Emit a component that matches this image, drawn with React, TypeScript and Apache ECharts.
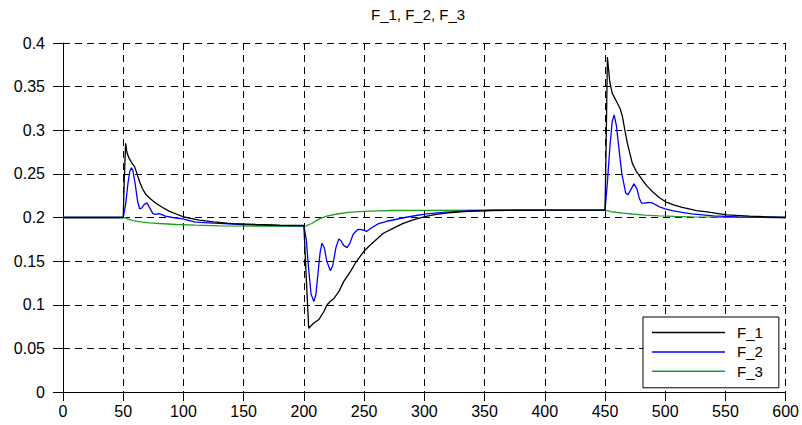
import React, { useEffect, useRef } from "react";
import * as echarts from "echarts";

const titleText = "F_1, F_2, F_3";
const seriesNames = ["F_1", "F_2", "F_3"];
const seriesColors = ["#000000", "#0000ff", "#20a020"];

const xTicks = { min: 0, max: 600, interval: 50 };
const yTicks = { min: 0, max: 0.4, interval: 0.05 };

const f1Points: [number, number][] = [
  [0, 0.2], [50, 0.2], [50.8, 0.24], [52, 0.285], [53, 0.275], [54.8, 0.268], [57, 0.263],
  [59.5, 0.258], [61.5, 0.25], [63.6, 0.241], [66, 0.233], [69, 0.226], [73, 0.221],
  [77.4, 0.216], [82, 0.212], [88.4, 0.207], [94, 0.204], [99.4, 0.201], [106, 0.199],
  [113, 0.197], [125, 0.195], [140, 0.193], [160, 0.192], [180, 0.1913], [200, 0.191],
  [202, 0.13], [204, 0.073], [206, 0.076], [208.3, 0.079], [212.4, 0.083], [216.5, 0.092],
  [219.3, 0.1], [222, 0.104], [224.8, 0.107], [229, 0.115], [233, 0.1265], [238.6, 0.138],
  [242.7, 0.1476], [246, 0.154], [249.6, 0.161], [254, 0.167], [257.9, 0.172], [262, 0.177],
  [266, 0.182], [274, 0.1876], [282, 0.193], [290, 0.197], [300.5, 0.201], [310, 0.2035],
  [320, 0.2052], [336, 0.207], [355, 0.208], [375, 0.2083], [400, 0.2085], [450, 0.2085],
  [450.8, 0.27], [452, 0.384], [454, 0.355], [456, 0.3425], [460.3, 0.331], [462.5, 0.325],
  [464.5, 0.3157], [466.5, 0.3], [468.6, 0.285], [472.7, 0.262], [476, 0.253], [481, 0.243],
  [485, 0.236], [489.3, 0.2297], [495, 0.223], [500.3, 0.218], [507, 0.2145], [514, 0.2115],
  [518, 0.2105], [526, 0.208], [534.7, 0.2065], [551, 0.203], [570, 0.2015], [584, 0.2008],
  [600, 0.2],
];

const f2Points: [number, number][] = [
  [0, 0.2], [50, 0.2], [52, 0.215], [54, 0.24], [55.5, 0.253], [56.8, 0.257], [58, 0.254],
  [60, 0.238], [62, 0.218], [63.6, 0.21], [65.5, 0.211], [67.5, 0.215], [69.7, 0.2167],
  [72, 0.211], [74.6, 0.2045], [77, 0.2035], [79.5, 0.2045], [81.5, 0.2035], [85, 0.2015],
  [91, 0.2], [99.4, 0.1984], [105, 0.1965], [110, 0.1948], [125, 0.1935], [150, 0.192],
  [175, 0.191], [200, 0.1905], [202, 0.175], [204, 0.14], [206, 0.112], [208.3, 0.1036],
  [210, 0.112], [212, 0.14], [213.5, 0.16], [215, 0.1705], [217, 0.165], [219, 0.15],
  [222, 0.139], [224, 0.145], [226.5, 0.165], [229, 0.1755], [231, 0.173], [233, 0.168],
  [235.8, 0.1655], [238, 0.17], [241, 0.181], [245, 0.1865], [248, 0.186], [252, 0.184],
  [256, 0.188], [262, 0.193], [266, 0.1945], [270, 0.196], [277, 0.198], [284, 0.2],
  [292, 0.202], [300.5, 0.2038], [315, 0.2058], [336, 0.2076], [360, 0.2083], [400, 0.2085],
  [450, 0.2085], [452, 0.24], [454, 0.28], [456, 0.31], [457.6, 0.3177], [459.5, 0.305],
  [461.7, 0.2775], [464, 0.25], [467.2, 0.228], [469, 0.226], [471.5, 0.232], [474, 0.2385],
  [476.5, 0.233], [478.5, 0.222], [480.4, 0.2164], [483, 0.2165], [486, 0.2172],
  [488.7, 0.217], [491, 0.2155], [494.8, 0.2125], [500, 0.21], [505.8, 0.2078],
  [514, 0.2058], [522, 0.2042], [540, 0.2018], [560, 0.2007], [580, 0.2003], [600, 0.2],
];

const f3Points: [number, number][] = [
  [0, 0.2], [50, 0.2], [52, 0.1995], [54, 0.198], [58, 0.1965], [62, 0.1955], [66, 0.1946],
  [72, 0.1938], [80, 0.1931], [94, 0.192], [110, 0.1912], [130, 0.1905], [160, 0.1902],
  [200, 0.19], [202, 0.1905], [204.5, 0.192], [207, 0.1934], [210, 0.1962], [213.8, 0.199],
  [219, 0.2015], [227.5, 0.204], [237, 0.2058], [249.6, 0.207], [262, 0.2076], [274, 0.208],
  [300, 0.2082], [350, 0.2083], [450, 0.2083], [452, 0.2078], [455, 0.2068], [459, 0.206],
  [465, 0.205], [472.7, 0.204], [483, 0.2028], [494.8, 0.2018], [508, 0.2012],
  [522, 0.2008], [545, 0.2004], [570, 0.2002], [600, 0.2],
];

const allPoints = [f1Points, f2Points, f3Points];

const FONT = "'Liberation Sans', Arial, Helvetica, sans-serif";

export default function App() {
  const ref = useRef<HTMLDivElement>(null);

  useEffect(() => {
    if (!ref.current) return;
    const chart = echarts.init(ref.current, null, { renderer: "svg" });
    const gridLine = {
      show: true,
      lineStyle: { color: "#000", width: 1, type: [7, 5] as number[] },
    };
    chart.setOption({
      animation: false,
      backgroundColor: "#fff",
      textStyle: { fontFamily: FONT },
      title: {
        text: titleText,
        left: 371,
        top: 7,
        padding: 0,
        textStyle: { fontFamily: FONT, fontSize: 15, fontWeight: "normal", color: "#000" },
      },
      legend: {
        orient: "vertical",
        left: 643,
        top: 317,
        padding: [8, 16, 9, 9],
        icon: "rect",
        itemWidth: 73,
        itemHeight: 1.5,
        itemGap: 4.4,
        backgroundColor: "#fff",
        borderColor: "#000",
        borderWidth: 1,
        borderRadius: 0,
        data: seriesNames,
        textStyle: { fontFamily: FONT, fontSize: 15, color: "#000", padding: [0, 0, 0, 7] },
      },
      grid: { left: 63, right: 13.5, top: 43, bottom: 33, containLabel: false },
      xAxis: {
        type: "value",
        min: xTicks.min,
        max: xTicks.max,
        interval: xTicks.interval,
        axisLine: { show: true, onZero: false, lineStyle: { color: "#000", width: 1 } },
        axisTick: { show: true, length: 9, lineStyle: { color: "#000" } },
        axisLabel: { fontFamily: FONT, fontSize: 16, color: "#000", margin: 11 },
        splitLine: gridLine,
      },
      yAxis: {
        type: "value",
        min: yTicks.min,
        max: yTicks.max,
        interval: yTicks.interval,
        axisLine: { show: true, onZero: false, lineStyle: { color: "#000", width: 1 } },
        axisTick: { show: true, length: 10, lineStyle: { color: "#000" } },
        axisLabel: {
          fontFamily: FONT,
          fontSize: 16,
          color: "#000",
          margin: 18,
          formatter: (v: number) => String(+v.toFixed(2)),
        },
        splitLine: gridLine,
      },
      series: seriesNames.map((name, i) => ({
        name,
        type: "line",
        data: allPoints[i],
        showSymbol: false,
        symbol: "none",
        smooth: false,
        z: 10 - i,
        lineStyle: { color: seriesColors[i], width: 1.3 },
        itemStyle: { color: seriesColors[i] },
      })),
    });
    return () => chart.dispose();
  }, []);

  return (
    <div
      ref={ref}
      style={{ position: "fixed", left: 0, top: 0, width: 802, height: 425 }}
    />
  );
}
